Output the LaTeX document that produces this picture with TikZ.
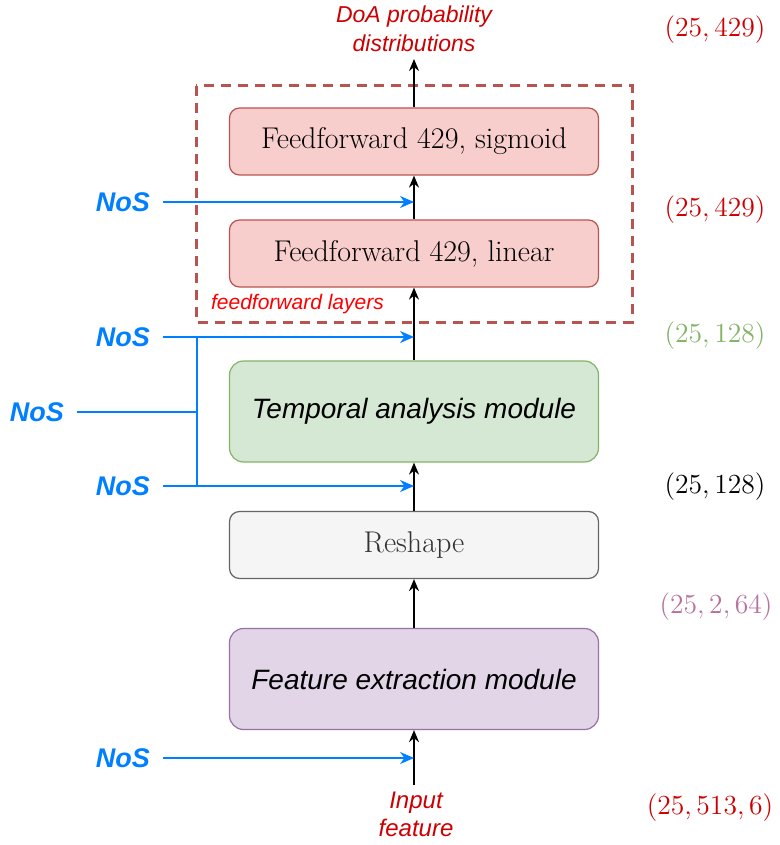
\documentclass[tikz,border=0pt]{standalone}
\usepackage{fontspec}
\setsansfont{Liberation Sans}
\usetikzlibrary{arrows.meta}

\definecolor{fffill}{HTML}{F8CECC}
\definecolor{ffline}{HTML}{B85450}
\definecolor{tafill}{HTML}{D5E8D4}
\definecolor{taline}{HTML}{82B366}
\definecolor{rsfill}{HTML}{F5F5F5}
\definecolor{rsline}{HTML}{666666}
\definecolor{rstext}{HTML}{333333}
\definecolor{fefill}{HTML}{E1D5E7}
\definecolor{feline}{HTML}{9673A6}
\definecolor{darkred}{HTML}{CC0000}
\definecolor{brightred}{HTML}{FF0000}
\definecolor{nosblue}{HTML}{007FFF}
\definecolor{shapepurple}{HTML}{B5739D}

\begin{document}
\begin{tikzpicture}[x=0.5pt, y=-0.5pt,
    box/.style={draw, rounded corners=5pt, minimum width=184.5pt, minimum height=33.5pt, inner sep=0pt, line width=0.6pt},
    bigbox/.style={box, minimum height=50.5pt, rounded corners=7pt},
    serif/.style={font=\fontsize{15}{18}\selectfont},
    sans/.style={font=\sffamily\itshape\fontsize{14}{17}\selectfont},
    nos/.style={font=\sffamily\bfseries\itshape\fontsize{13.5}{15}\selectfont, text=nosblue},
    dims/.style={font=\fontsize{13.8}{16}\selectfont},
    flow/.style={-{Stealth[length=6pt, width=5pt]}, line width=0.75pt},
    side/.style={-{Stealth[length=7pt, width=6pt]}, nosblue, line width=1pt},
]
    \useasboundingbox (0,0) rectangle (780,845);

    % feedforward layers
    \draw[ffline, line width=1.5pt, dash pattern=on 5pt off 3.5pt] (196,86) rectangle (632,322);
    \node[anchor=west, text=brightred, font=\sffamily\itshape\fontsize{10.5}{12}\selectfont] (fflab) at (204,304) {feedforward layers};

    \node[box, fill=fffill, draw=ffline, serif] (sig) at (414,141.5) {Feedforward 429, sigmoid};
    \node[box, fill=fffill, draw=ffline, serif] (lin) at (414,253.5) {Feedforward 429, linear};
    \node[bigbox, fill=tafill, draw=taline, sans] (tam) at (414,411.5) {Temporal analysis module};
    \node[box, fill=rsfill, draw=rsline, serif, text=rstext] (rsh) at (414,545) {Reshape};
    \node[bigbox, fill=fefill, draw=feline, sans] (fem) at (414,679) {Feature extraction module};

    \node[align=center, text=darkred, font=\sffamily\itshape\fontsize{11.5}{14.5}\selectfont] (out) at (414,29) {DoA probability\\distributions};
    \node[align=center, text=darkred, font=\sffamily\itshape\fontsize{12}{14}\selectfont] (inp) at (416,814) {Input\\feature};

    % main flow
    \draw[flow] (inp.north -| fem.south) -- (fem.south);
    \draw[flow] (fem.north) -- (rsh.south);
    \draw[flow] (rsh.north) -- (tam.south);
    \draw[flow] (tam.north) -- (lin.south);
    \draw[flow] (lin.north) -- (sig.south);
    \draw[flow] (sig.north) -- (out.south);

    % NoS inputs
    \node[nos, anchor=east] (nos1) at (157,202) {NoS};
    \node[nos, anchor=east] (nos2) at (157,337) {NoS};
    \node[nos, anchor=east] (nos3) at (71,412) {NoS};
    \node[nos, anchor=east] (nos4) at (157,486) {NoS};
    \node[nos, anchor=east] (nos5) at (157,758) {NoS};
    \coordinate (j1) at (414,202);
    \coordinate (j2) at (414,337);
    \coordinate (j3) at (414,486);
    \coordinate (j4) at (414,758);
    \coordinate (bt) at (197,337);
    \coordinate (br) at (197,412);
    \coordinate (bb) at (197,486);
    \draw[side, shorten <=3pt] (nos1.east) -- (j1);
    \draw[side, shorten <=3pt] (nos2.east) -- (j2);
    \draw[side, shorten <=3pt] (nos4.east) -- (j3);
    \draw[side, shorten <=3pt] (nos5.east) -- (j4);
    \draw[nosblue, line width=1pt, shorten <=3pt] (nos3.east) -- (br);
    \draw[nosblue, line width=1pt] (bt) -- (bb);

    % tensor shapes
    \node[dims, text=darkred] (d1) at (715,30) {(25,\,429)};
    \node[dims, text=darkred] (d2) at (715,210) {(25,\,429)};
    \node[dims, text=taline] (d3) at (715,336) {(25,\,128)};
    \node[dims] (d4) at (715,487) {(25,\,128)};
    \node[dims, text=shapepurple] (d5) at (716,607) {(25,\,2,\,64)};
    \node[dims, text=darkred] (d6) at (710,808) {(25,\,513,\,6)};
\end{tikzpicture}
\end{document}
